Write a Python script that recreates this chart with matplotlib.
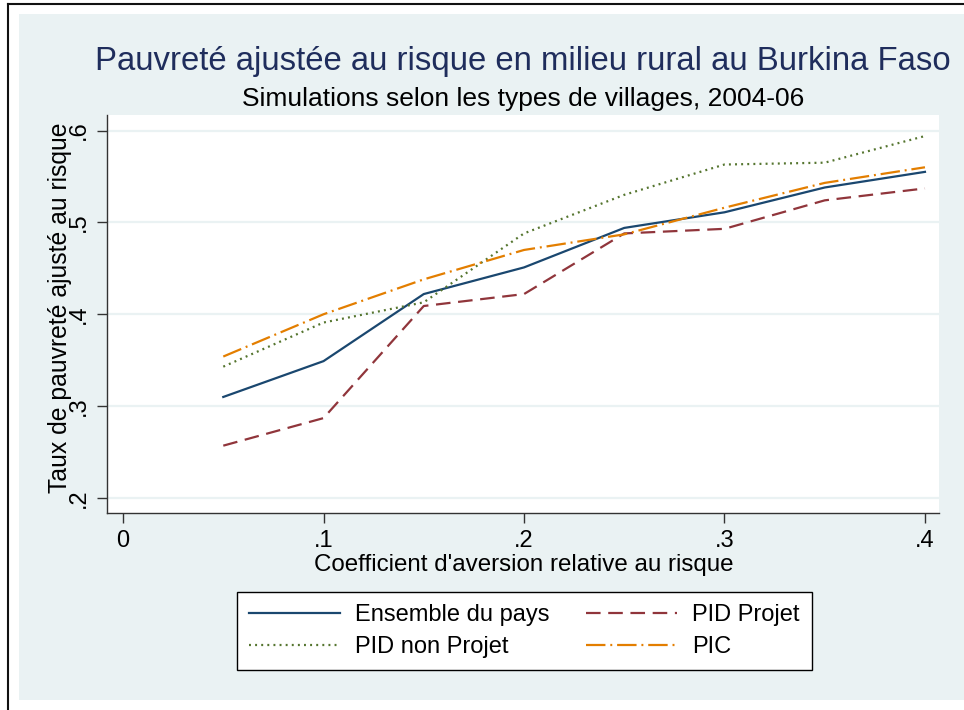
import matplotlib
matplotlib.use("Agg")
import matplotlib.pyplot as plt
from matplotlib.patches import Rectangle
from matplotlib.lines import Line2D

plt.rcParams['font.family'] = ['Liberation Sans', 'DejaVu Sans']
plt.rcParams['lines.scale_dashes'] = False

# ---- data ----
aversion = [0.05, 0.10, 0.15, 0.20, 0.25, 0.30, 0.35, 0.40]
ensemble = [0.310, 0.349, 0.422, 0.451, 0.494, 0.511, 0.538, 0.555]
pid_projet = [0.257, 0.287, 0.409, 0.422, 0.488, 0.493, 0.524, 0.537]
pid_non_projet = [0.343, 0.391, 0.413, 0.488, 0.530, 0.563, 0.565, 0.594]
pic = [0.354, 0.400, 0.438, 0.470, 0.487, 0.516, 0.543, 0.560]

x_ticks = [0, 0.1, 0.2, 0.3, 0.4]
x_ticklabels = ["0", ".1", ".2", ".3", ".4"]
y_ticks = [0.2, 0.3, 0.4, 0.5, 0.6]
y_ticklabels = [".2", ".3", ".4", ".5", ".6"]

title = "Pauvreté ajustée au risque en milieu rural au Burkina Faso"
subtitle = "Simulations selon les types de villages, 2004-06"
xlabel = "Coefficient d'aversion relative au risque"
ylabel = "Taux de pauvreté ajusté au risque"
labels = ["Ensemble du pays", "PID non Projet", "PID Projet", "PIC"]

W, H = 964, 710
fig = plt.figure(figsize=(W / 100, H / 100), dpi=100, facecolor='white')

def fx(px):
    return px / W

def fy(py):
    return 1 - py / H

# graph region background
bg = Rectangle((fx(19), fy(700)), fx(964) - fx(19), fy(14) - fy(700),
               transform=fig.transFigure, facecolor='#EAF2F3',
               edgecolor='none', zorder=-10)
fig.patches.append(bg)
# outer border lines
fig.lines.append(Line2D([fx(8), fx(8)], [fy(4), 0], transform=fig.transFigure,
                        color='#111111', lw=1.5, zorder=-5))
fig.lines.append(Line2D([fx(8), 1], [fy(4), fy(4)], transform=fig.transFigure,
                        color='#111111', lw=1.5, zorder=-5))

ax = fig.add_axes([fx(107), fy(513), fx(939) - fx(107), fy(115) - fy(513)])
ax.set_zorder(1)
ax.set_facecolor('white')

navy = '#1A476F'
maroon = '#90353B'
green = '#55752F'
orange = '#E37E00'
lw = 1.6

l1, = ax.plot(aversion, ensemble, color=navy, lw=lw)
l3, = ax.plot(aversion, pid_projet, color=maroon, lw=lw, linestyle=(0, (10.5, 5.5)))
l2, = ax.plot(aversion, pid_non_projet, color=green, lw=lw, linestyle=(0, (1.4, 3.0)))
l4, = ax.plot(aversion, pic, color=orange, lw=lw, linestyle=(0, (14, 3.5, 1.4, 3.5)))

ax.set_xlim(-0.008, 0.407)
ax.set_ylim(0.1837, 0.6169)

ax.set_xticks(x_ticks)
ax.set_xticklabels(x_ticklabels)
ax.set_yticks(y_ticks)
ax.set_yticklabels(y_ticklabels, rotation=90, va='center')

ax.grid(axis='y', color='#EAF2F3', lw=1.6)
ax.set_axisbelow(True)
for s in ['top', 'right']:
    ax.spines[s].set_visible(False)
for s in ['left', 'bottom']:
    ax.spines[s].set_color('#333333')
    ax.spines[s].set_linewidth(1.0)
ax.tick_params(axis='both', length=7, width=1.0, color='#333333',
               labelsize=17, labelcolor='black', pad=5)

fig.text(fx(523), fy(70), title, ha='center', va='baseline', fontsize=23.7,
         color='#1F2D5C')
fig.text(fx(523), fy(106), subtitle, ha='center', va='baseline', fontsize=19,
         color='black')
fig.text(fx(524), fy(571), xlabel, ha='center', va='baseline', fontsize=17.4,
         color='black')
fig.text(fx(60), fy(308), ylabel, ha='center', va='center', rotation=90,
         fontsize=17.8, color='black')

leg = fig.legend([l1, l2, l3, l4], labels, ncol=2, loc='upper left',
                 bbox_to_anchor=(fx(237), fy(592)), bbox_transform=fig.transFigure,
                 frameon=True, fancybox=False, fontsize=17, handlelength=3.85,
                 columnspacing=1.55, handletextpad=0.65, borderpad=0.5,
                 labelspacing=0.45, borderaxespad=0, framealpha=1)
leg.get_frame().set_edgecolor('black')
leg.get_frame().set_linewidth(1.0)

fig.savefig('out.png', dpi=100, facecolor='white')
